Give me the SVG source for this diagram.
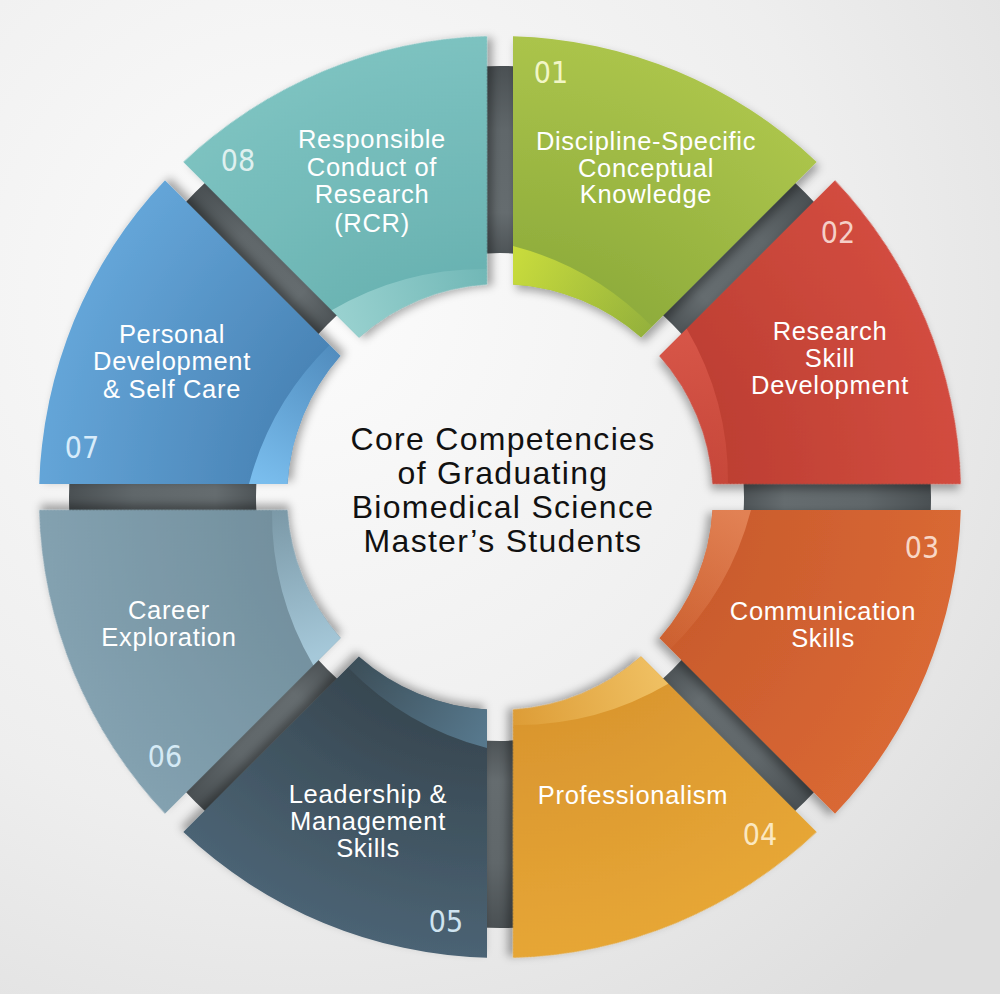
<svg xmlns="http://www.w3.org/2000/svg" xmlns:xlink="http://www.w3.org/1999/xlink" width="1000" height="994" viewBox="0 0 1000 994">
<style>
.lbl{font-family:"Liberation Sans",Arial,sans-serif;font-size:25.5px;fill:#ffffff;text-anchor:middle;letter-spacing:0.7px}
.num{font-family:"DejaVu Sans Condensed","DejaVu Sans",sans-serif;font-size:30px;text-anchor:middle}
.ctr{font-family:"Liberation Sans",Arial,sans-serif;font-size:32px;fill:#111111;text-anchor:middle;letter-spacing:1.3px}
</style>
<defs>
<radialGradient id="bg" cx="0.3" cy="0.3" r="0.9">
<stop offset="0" stop-color="#fcfcfc"/><stop offset="0.6" stop-color="#eeeeee"/><stop offset="1" stop-color="#dedede"/>
</radialGradient>
<radialGradient id="ringG" gradientUnits="userSpaceOnUse" cx="500" cy="497" r="431">
<stop offset="0.56" stop-color="#4d5356"/><stop offset="0.66" stop-color="#656c6f"/><stop offset="0.85" stop-color="#60676a"/><stop offset="1" stop-color="#4a5053"/>
</radialGradient>
<filter id="sh" x="-20%" y="-20%" width="140%" height="140%">
<feDropShadow dx="3" dy="5" stdDeviation="4" flood-color="#000" flood-opacity="0.33"/>
</filter>
<path id="seg" d="M 513,36.18 A 461 461 0 0 1 816.66,161.96 L 641.14,337.48 A 213 213 0 0 0 513,284.4 Z"/>
<path id="band" d="M 513,246 A 300 300 0 0 1 652,326.6 L 641.14,337.48 A 213 213 0 0 0 513,284.4 Z"/>
<radialGradient id="f1" gradientUnits="userSpaceOnUse" cx="500" cy="497" r="461"><stop offset="0.46" stop-color="#8dab3b"/><stop offset="1" stop-color="#abc44b"/></radialGradient>
<radialGradient id="f2" gradientUnits="userSpaceOnUse" cx="500" cy="497" r="461"><stop offset="0.46" stop-color="#bc3e32"/><stop offset="1" stop-color="#d24c3f"/></radialGradient>
<radialGradient id="f3" gradientUnits="userSpaceOnUse" cx="500" cy="497" r="461"><stop offset="0.46" stop-color="#c95b2c"/><stop offset="1" stop-color="#d96834"/></radialGradient>
<radialGradient id="f4" gradientUnits="userSpaceOnUse" cx="500" cy="497" r="461"><stop offset="0.46" stop-color="#d9952e"/><stop offset="1" stop-color="#e6a636"/></radialGradient>
<radialGradient id="f5" gradientUnits="userSpaceOnUse" cx="500" cy="497" r="461"><stop offset="0.46" stop-color="#36454e"/><stop offset="1" stop-color="#4b6374"/></radialGradient>
<radialGradient id="f6" gradientUnits="userSpaceOnUse" cx="500" cy="497" r="461"><stop offset="0.46" stop-color="#728f9d"/><stop offset="1" stop-color="#83a1b0"/></radialGradient>
<radialGradient id="f7" gradientUnits="userSpaceOnUse" cx="500" cy="497" r="461"><stop offset="0.46" stop-color="#4882b4"/><stop offset="1" stop-color="#64a5d8"/></radialGradient>
<radialGradient id="f8" gradientUnits="userSpaceOnUse" cx="500" cy="497" r="461"><stop offset="0.46" stop-color="#69b2b1"/><stop offset="1" stop-color="#7cc2c0"/></radialGradient>
<linearGradient id="b1" gradientUnits="userSpaceOnUse" x1="513" y1="265" x2="650" y2="330"><stop offset="0" stop-color="#cadd3c" stop-opacity="0.95"/><stop offset="1" stop-color="#cadd3c" stop-opacity="0.1"/></linearGradient>
<linearGradient id="b2" gradientUnits="userSpaceOnUse" x1="513" y1="265" x2="650" y2="330"><stop offset="0" stop-color="#dc5a4c" stop-opacity="0.8"/><stop offset="1" stop-color="#dc5a4c" stop-opacity="0.3"/></linearGradient>
<linearGradient id="b3" gradientUnits="userSpaceOnUse" x1="513" y1="265" x2="650" y2="330"><stop offset="0" stop-color="#e48558" stop-opacity="0.9"/><stop offset="1" stop-color="#e48558" stop-opacity="0.1"/></linearGradient>
<linearGradient id="b4" gradientUnits="userSpaceOnUse" x1="513" y1="265" x2="650" y2="330"><stop offset="0" stop-color="#f0c164" stop-opacity="0.95"/><stop offset="1" stop-color="#f0c164" stop-opacity="0.15"/></linearGradient>
<linearGradient id="b5" gradientUnits="userSpaceOnUse" x1="513" y1="265" x2="650" y2="330"><stop offset="0" stop-color="#587a8f" stop-opacity="0.95"/><stop offset="1" stop-color="#587a8f" stop-opacity="0.15"/></linearGradient>
<linearGradient id="b6" gradientUnits="userSpaceOnUse" x1="513" y1="265" x2="650" y2="330"><stop offset="0" stop-color="#a8cbdc" stop-opacity="0.95"/><stop offset="1" stop-color="#a8cbdc" stop-opacity="0.15"/></linearGradient>
<linearGradient id="b7" gradientUnits="userSpaceOnUse" x1="513" y1="265" x2="650" y2="330"><stop offset="0" stop-color="#7cc0f0" stop-opacity="0.95"/><stop offset="1" stop-color="#7cc0f0" stop-opacity="0.15"/></linearGradient>
<linearGradient id="b8" gradientUnits="userSpaceOnUse" x1="513" y1="265" x2="650" y2="330"><stop offset="0" stop-color="#9ad2d0" stop-opacity="0.95"/><stop offset="1" stop-color="#9ad2d0" stop-opacity="0.15"/></linearGradient>
</defs>
<rect x="0" y="0" width="1000" height="994" fill="url(#bg)"/>
<g id="connectors">
<path d="M 69,497 A 431 431 0 1 0 931,497 A 431 431 0 1 0 69,497 Z M 256,497 A 244 244 0 1 1 744,497 A 244 244 0 1 1 256,497 Z" fill="url(#ringG)" fill-rule="evenodd"/>
</g>
<g id="center">
<text class="ctr" x="503" y="450">Core Competencies</text>
<text class="ctr" x="503" y="484">of Graduating</text>
<text class="ctr" x="503" y="518">Biomedical Science</text>
<text class="ctr" x="503" y="552">Master’s Students</text>
</g>
<g id="n01">
<use href="#seg" fill="url(#f1)" filter="url(#sh)"/>
<use href="#band" fill="url(#b1)"/>
<text class="num" x="551" y="83" fill="#f2f6c6">01</text>
<text class="lbl" x="646" y="150">Discipline-Specific</text>
<text class="lbl" x="646" y="177">Conceptual</text>
<text class="lbl" x="646" y="203">Knowledge</text>
</g>
<g id="n02">
<use href="#seg" transform="rotate(45 500 497)" fill="url(#f2)" filter="url(#sh)"/>
<use href="#band" transform="rotate(45 500 497)" fill="url(#b2)"/>
<text class="num" x="838" y="243" fill="#f5cfc7">02</text>
<text class="lbl" x="830" y="340">Research</text>
<text class="lbl" x="830" y="367">Skill</text>
<text class="lbl" x="830" y="394">Development</text>
</g>
<g id="n03">
<use href="#seg" transform="rotate(90 500 497)" fill="url(#f3)" filter="url(#sh)"/>
<use href="#band" transform="rotate(90 500 497)" fill="url(#b3)"/>
<text class="num" x="922" y="558" fill="#f8d7c6">03</text>
<text class="lbl" x="823" y="620">Communication</text>
<text class="lbl" x="823" y="647">Skills</text>
</g>
<g id="n04">
<use href="#seg" transform="rotate(135 500 497)" fill="url(#f4)" filter="url(#sh)"/>
<use href="#band" transform="rotate(135 500 497)" fill="url(#b4)"/>
<text class="num" x="760" y="845" fill="#fbe8c0">04</text>
<text class="lbl" x="633" y="804">Professionalism</text>
</g>
<g id="n05">
<use href="#seg" transform="rotate(180 500 497)" fill="url(#f5)" filter="url(#sh)"/>
<use href="#band" transform="rotate(180 500 497)" fill="url(#b5)"/>
<text class="num" x="446" y="932" fill="#cfe4f0">05</text>
<text class="lbl" x="368" y="803">Leadership &amp;</text>
<text class="lbl" x="368" y="830">Management</text>
<text class="lbl" x="368" y="857">Skills</text>
</g>
<g id="n06">
<use href="#seg" transform="rotate(225 500 497)" fill="url(#f6)" filter="url(#sh)"/>
<use href="#band" transform="rotate(225 500 497)" fill="url(#b6)"/>
<text class="num" x="165" y="767" fill="#d5eaf5">06</text>
<text class="lbl" x="169" y="619">Career</text>
<text class="lbl" x="169" y="646">Exploration</text>
</g>
<g id="n07">
<use href="#seg" transform="rotate(270 500 497)" fill="url(#f7)" filter="url(#sh)"/>
<use href="#band" transform="rotate(270 500 497)" fill="url(#b7)"/>
<text class="num" x="82" y="458" fill="#d8ecfa">07</text>
<text class="lbl" x="172" y="343">Personal</text>
<text class="lbl" x="172" y="370">Development</text>
<text class="lbl" x="172" y="398">&amp; Self Care</text>
</g>
<g id="n08">
<use href="#seg" transform="rotate(315 500 497)" fill="url(#f8)" filter="url(#sh)"/>
<use href="#band" transform="rotate(315 500 497)" fill="url(#b8)"/>
<text class="num" x="238" y="171" fill="#dff0ef">08</text>
<text class="lbl" x="372" y="148">Responsible</text>
<text class="lbl" x="372" y="176">Conduct of</text>
<text class="lbl" x="372" y="203">Research</text>
<text class="lbl" x="372" y="232">(RCR)</text>
</g>
</svg>
